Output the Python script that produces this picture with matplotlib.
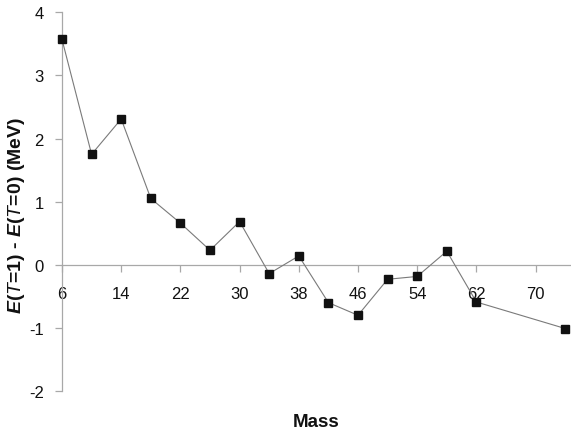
import matplotlib
matplotlib.use("Agg")
import matplotlib.pyplot as plt
from matplotlib import font_manager

# Mass number and isospin energy difference E(T=1) - E(T=0) in MeV
mass = [6, 10, 14, 18, 22, 26, 30, 34, 38, 42, 46, 50, 54, 58, 62, 74]
delta_e = [3.57, 1.75, 2.31, 1.05, 0.66, 0.23, 0.685, -0.14, 0.14,
           -0.60, -0.80, -0.23, -0.185, 0.215, -0.59, -1.01]
x_ticks = [6, 14, 22, 30, 38, 46, 54, 62, 70]
y_ticks = [-2, -1, 0, 1, 2, 3, 4]

names = {f.name for f in font_manager.fontManager.ttflist}
fam = "Liberation Sans Narrow" if "Liberation Sans Narrow" in names else "Liberation Sans"
plt.rcParams["font.family"] = [fam, "DejaVu Sans"]
plt.rcParams["axes.unicode_minus"] = False
plt.rcParams["mathtext.fontset"] = "custom"
plt.rcParams["mathtext.rm"] = f"{fam}:bold"
plt.rcParams["mathtext.bf"] = f"{fam}:bold"
plt.rcParams["mathtext.it"] = f"{fam}:italic"
plt.rcParams["mathtext.bfit"] = f"{fam}:bold:italic"

fig = plt.figure(figsize=(5.71, 4.31), dpi=100)
ax = fig.add_axes([62 / 571, 39 / 431, 508 / 571, 378.7 / 431])

ax.plot(mass, delta_e, color="#7a7a7a", lw=0.8, marker="s", ms=6.2,
        mfc="#111111", mec="#111111", zorder=3, clip_on=False)

ax.set_xlim(6, 74.65)
ax.set_ylim(-2, 4)
ax.set_xticks(x_ticks)
ax.set_yticks(y_ticks)

axis_col = "#a8a8a8"
for s in ("top", "right"):
    ax.spines[s].set_visible(False)
ax.spines["bottom"].set_position(("data", 0))
for s in ("left", "bottom"):
    ax.spines[s].set_color(axis_col)
    ax.spines[s].set_linewidth(0.9)
ax.tick_params(axis="both", direction="out", length=5, width=0.9,
               color=axis_col, labelsize=12, labelcolor="#111111")
ax.tick_params(axis="x", pad=10)
ax.tick_params(axis="y", pad=8)

fig.text(316 / 571, 1 - 423 / 431, "Mass", ha="center", va="center",
         fontsize=13.5, fontweight="bold", color="#111111")
fig.text(17 / 571, 1 - 215 / 431,
         r"$\mathbfit{E}$($\mathit{T}$=1) - $\mathbfit{E}$($\mathit{T}$=0) (MeV)",
         rotation=90, ha="center", va="center", fontsize=14,
         fontweight="bold", color="#111111")

fig.savefig("out.png", dpi=100)
